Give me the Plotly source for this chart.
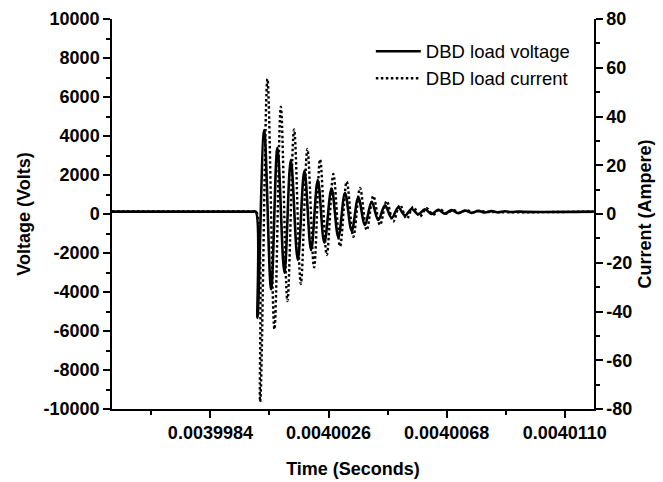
import plotly.graph_objects as go
import numpy as np

# Time in microseconds (converted to seconds for plotting)
voltage_time_us = [3994.9, 3998.0, 3999.9, 4000.012, 4000.073, 4000.311, 4000.559, 4000.783,
                   4001.031, 4001.259, 4001.507, 4001.742, 4001.980, 4002.218, 4002.452, 4002.708,
                   4002.949, 4003.187, 4003.425, 4003.659, 4003.897, 4004.135, 4004.370, 4004.608,
                   4004.845, 4005.080, 4005.318, 4005.556, 4005.790, 4006.028, 4006.266, 4006.500,
                   4006.738, 4006.976, 4007.211, 4007.449, 4007.687, 4007.921, 4008.159, 4008.397,
                   4008.631, 4008.869, 4009.107, 4009.341, 4009.579, 4012.03]
voltage_volts = [120, 120, 120, 120, -5330, 4310, -3860, 3390,
                 -3010, 2770, -2360, 2220, -1850, 1740, -1470, 1310,
                 -1200, 1080, -870, 850, -560, 620, -310, 440,
                 -200, 330, -80, 260, -20, 240, 0, 220,
                 20, 200, 40, 180, 60, 160, 80, 150,
                 90, 140, 100, 130, 110, 120]

current_time_us = [3994.9, 3998.0, 3999.9, 4000.026, 4000.168, 4000.428, 4000.676, 4000.904,
                   4001.138, 4001.376, 4001.614, 4001.848, 4002.086, 4002.299, 4002.537, 4002.772,
                   4003.010, 4003.247, 4003.482, 4003.720, 4003.958, 4004.192, 4004.430, 4004.668,
                   4004.902, 4005.140, 4005.378, 4005.612, 4005.850, 4006.088, 4006.323, 4006.561,
                   4006.799, 4007.033, 4007.271, 4007.509, 4007.743, 4007.981, 4008.219, 4012.03]
current_amps = [1, 1, 1, 1, -77, 55.4, -47.3, 44.0,
                -35.7, 34.7, -28.7, 26.7, -21.9, 22.4, -16.8, 16.4,
                -13.3, 13.3, -9.4, 10.7, -6.6, 7.4, -4.5, 5.3,
                -3.1, 3.7, -1.9, 2.9, -1.0, 2.4, -0.3, 2.0,
                0.2, 1.7, 0.5, 1.5, 0.7, 1.3, 0.9, 1]

series_names = ["DBD load voltage", "DBD load current"]
x_title = "Time (Seconds)"
y_title = "Voltage (Volts)"
y2_title = "Current (Ampere)"

x_tick_values = [0.0039984, 0.0040026, 0.0040068, 0.0040110]
x_tick_labels = ["0.0039984", "0.0040026", "0.0040068", "0.0040110"]
y_tick_values = [-10000, -8000, -6000, -4000, -2000, 0, 2000, 4000, 6000, 8000, 10000]
y_tick_labels = ["-10000", "-8000", "-6000", "-4000", "-2000", "0", "2000", "4000", "6000", "8000", "10000"]
y2_tick_values = [-80, -60, -40, -20, 0, 20, 40, 60, 80]
y2_tick_labels = ["-80", "-60", "-40", "-20", "0", "20", "40", "60", "80"]

t_v = np.array(voltage_time_us) * 1e-6
t_i = np.array(current_time_us) * 1e-6

FONT = "Arial, Liberation Sans, sans-serif"

fig = go.Figure()
fig.add_trace(go.Scatter(x=t_v, y=voltage_volts, name=series_names[0], mode="lines",
                         line=dict(color="black", width=2.6, shape="spline", smoothing=1.0),
                         yaxis="y"))
fig.add_trace(go.Scatter(x=t_i, y=current_amps, name=series_names[1], mode="lines",
                         line=dict(color="black", width=2.4, dash="2.5px,2.5px", shape="spline", smoothing=1.0),
                         yaxis="y2"))

axis_common = dict(showgrid=False, zeroline=False, showline=True, linecolor="black", linewidth=1.5,
                   ticks="outside", ticklen=7, tickwidth=1.5, tickcolor="black", automargin=False,
                   tickfont=dict(family=FONT, size=18, color="black", weight="bold"))

title_font = dict(family=FONT, size=18, color="black", weight="bold")

fig.update_layout(
    width=663, height=482,
    margin=dict(l=112, r=69, t=19, b=73),
    paper_bgcolor="white", plot_bgcolor="white",
    font=dict(family=FONT, color="black"),
    showlegend=True,
    legend=dict(x=0.537, y=0.965, xanchor="left", yanchor="top", bgcolor="rgba(0,0,0,0)",
                font=dict(family=FONT, size=18.5, color="black"), itemwidth=45,
                tracegroupgap=0),
    xaxis=dict(range=[0.0039949, 0.00401204], tickvals=x_tick_values, ticktext=x_tick_labels,
               title=dict(text=x_title, font=title_font, standoff=20),
               minor=dict(dtick=2.1e-6, tick0=0.0039984, ticklen=4, tickcolor="black", tickwidth=1.5, ticks="outside"),
               **axis_common),
    yaxis=dict(range=[-10000, 10000], tickvals=y_tick_values, ticktext=y_tick_labels,
               title=dict(text=y_title, font=title_font, standoff=8),
               minor=dict(dtick=1000, tick0=0, ticklen=4, tickcolor="black", tickwidth=1.5, ticks="outside"),
               **axis_common),
    yaxis2=dict(range=[-80, 80], tickvals=y2_tick_values, ticktext=y2_tick_labels,
                overlaying="y", side="right",
                title=dict(text=y2_title, font=title_font, standoff=7),
                minor=dict(dtick=10, tick0=0, ticklen=4, tickcolor="black", tickwidth=1.5, ticks="outside"),
                **axis_common),
)

fig.write_html("out.html")
